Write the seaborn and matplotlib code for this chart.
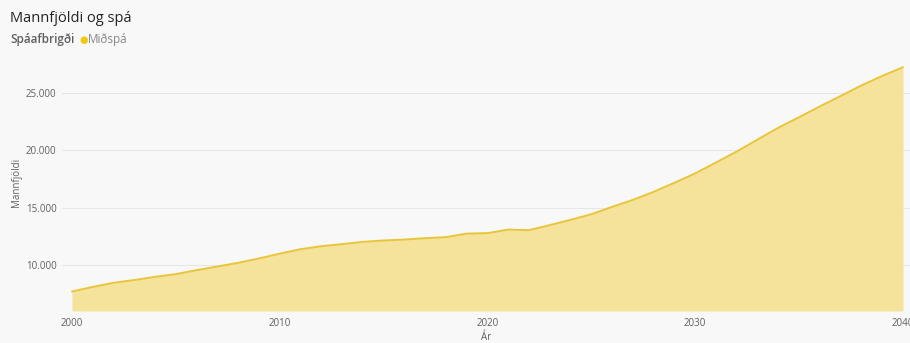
import numpy as np
import pandas as pd
import matplotlib
matplotlib.use("Agg")
import matplotlib.pyplot as plt
import matplotlib.ticker as mticker
import seaborn as sns

# Population (Miðspá) by year
years = list(range(2000, 2041))
population = [7700, 8100, 8460, 8700, 8980, 9215, 9560, 9880, 10200, 10580,
              11000, 11390, 11650, 11830, 12030, 12150, 12230, 12350, 12440, 12750,
              12790, 13100, 13050, 13490, 13950, 14440, 15080, 15690, 16390, 17180,
              18000, 18950, 19910, 20950, 21980, 22900, 23840, 24750, 25670, 26500,
              27260]
y_ticks = [10000, 15000, 20000, 25000]
x_ticks = [2000, 2010, 2020, 2030, 2040]

df = pd.DataFrame({"Ár": years, "Mannfjöldi": population})

W, H = 910, 343
bg = "#f8f8f8"
line_col = "#e9c53a"
fill_col = "#f5e39b"
dot_col = "#f2c811"
txt_col = "#606060"

sns.set_theme(style="white")
plt.rcParams["font.family"] = ["Open Sans", "DejaVu Sans"]

fig = plt.figure(figsize=(W / 100, H / 100), dpi=100, facecolor=bg)
ax = fig.add_axes([62 / W, (H - 311) / H, (910 - 62) / W, (311 - 53) / H])
ax.set_facecolor(bg)

ax.fill_between(df["Ár"], 6000, df["Mannfjöldi"], color=fill_col, lw=0)
sns.lineplot(data=df, x="Ár", y="Mannfjöldi", color=line_col, lw=1.4, ax=ax)

ax.set_xlim(1999.52, 2040.34)
ax.set_ylim(6000, 28500)
ax.set_xticks(x_ticks)
ax.set_yticks(y_ticks)
ax.yaxis.set_major_formatter(mticker.FuncFormatter(lambda v, p: f"{int(v):,}".replace(",", ".")))
ax.grid(axis="y", color="#e6e6e6", lw=0.8)
ax.set_axisbelow(True)
for s in ax.spines.values():
    s.set_visible(False)
ax.tick_params(axis="both", length=0, labelsize=7, labelcolor=txt_col)
ax.tick_params(axis="y", pad=4)
ax.tick_params(axis="x", pad=5)
ax.set_xlabel("Ár", fontsize=7, color=txt_col, labelpad=2)
ax.set_ylabel("Mannfjöldi", fontsize=7, color=txt_col, labelpad=3)

# title and legend
fig.text(10 / W, 1 - 18 / H, "Mannfjöldi og spá", fontsize=10.5, color="#252423", va="center")
fig.text(10 / W, 1 - 40 / H, "Spáafbrigði", fontsize=8.5, color="#605e5c",
         fontweight="semibold", va="center")
fig.text(79 / W, 1 - 40 / H, "●", fontsize=7, color=dot_col, va="center",
         family="DejaVu Sans")
fig.text(88 / W, 1 - 40 / H, "Miðspá", fontsize=8.5, color="#8a8886", va="center")

fig.savefig("out.png", dpi=100, facecolor=bg)
